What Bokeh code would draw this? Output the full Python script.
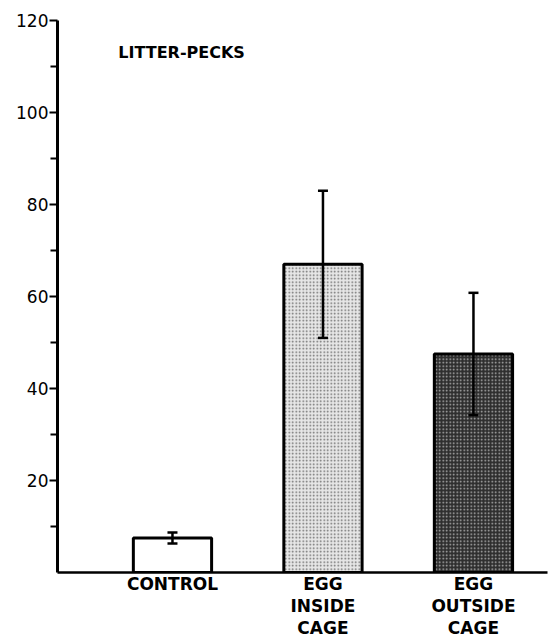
from bokeh.plotting import figure
from bokeh.models import ColumnDataSource, FixedTicker, Whisker, TeeHead, Label, Range1d
from bokeh.embed import file_html
from bokeh.resources import INLINE

# Litter-pecks per condition: means and error half-widths
groups = ["CONTROL", "EGG\nINSIDE\nCAGE", "EGG\nOUTSIDE\nCAGE"]
positions = [1, 2, 3]
means = [7.5, 67.0, 47.5]
errors = [1.2, 16.0, 13.3]
y_ticks = [20, 40, 60, 80, 100, 120]
y_minor = [10, 30, 50, 70, 90, 110]

# bar appearance: plain, light stipple, dark stipple
fills = ["white", "#e6e6e6", "#2e2e2e"]
hatch_colors = ["white", "#6a6a6a", "#b5b5b5"]
hatches = [" ", "dot", "dot"]

src = ColumnDataSource(dict(
    x=positions,
    top=means,
    upper=[m + e for m, e in zip(means, errors)],
    lower=[m - e for m, e in zip(means, errors)],
    fill=fills,
    hcol=hatch_colors,
    hpat=hatches,
))

p = figure(
    frame_width=490, frame_height=552,
    x_range=Range1d(0.236, 3.492), y_range=Range1d(0, 120),
    output_backend="svg", toolbar_location=None,
    min_border_left=57, min_border_top=20, min_border_right=2, min_border_bottom=0,
)
p.outline_line_color = None
p.xgrid.visible = False
p.ygrid.visible = False
p.background_fill_color = "white"
p.border_fill_color = "white"

p.vbar(x="x", top="top", width=0.52, source=src,
       fill_color="fill", hatch_pattern="hpat", hatch_color="hcol",
       hatch_scale=3.5, hatch_weight=1.2,
       line_color="black", line_width=3)

err = Whisker(base="x", upper="upper", lower="lower", source=src,
              line_color="black", line_width=2.5, level="overlay",
              upper_head=TeeHead(size=10, line_width=2.5, line_color="black"),
              lower_head=TeeHead(size=10, line_width=2.5, line_color="black"))
p.add_layout(err)

p.add_layout(Label(x=0.64, y=113, text="LITTER-PECKS", text_font="DejaVu Sans",
                   text_font_style="bold", text_font_size="16px",
                   text_baseline="middle", text_color="black"))

# y axis
ya = p.yaxis[0]
ya.ticker = FixedTicker(ticks=y_ticks, minor_ticks=y_minor)
ya.axis_line_width = 3
ya.major_tick_out = 8
ya.major_tick_in = 0
ya.minor_tick_out = 7
ya.minor_tick_in = 0
ya.major_tick_line_width = 2
ya.minor_tick_line_width = 2
ya.major_label_text_font = "DejaVu Sans"
ya.major_label_text_font_size = "17px"
ya.major_label_text_color = "black"
ya.major_label_standoff = 1

# x axis with category names
xa = p.xaxis[0]
xa.ticker = FixedTicker(ticks=positions)
xa.major_label_overrides = {pos: name for pos, name in zip(positions, groups)}
xa.axis_line_width = 2.5
xa.major_tick_out = 0
xa.major_tick_in = 0
xa.minor_tick_out = 0
xa.minor_tick_in = 0
xa.major_label_text_font = "DejaVu Sans"
xa.major_label_text_font_style = "bold"
xa.major_label_text_font_size = "17px"
xa.major_label_text_line_height = 1.12
xa.major_label_text_color = "black"
xa.major_label_standoff = 1

open("out.html", "w").write(file_html(p, INLINE))
